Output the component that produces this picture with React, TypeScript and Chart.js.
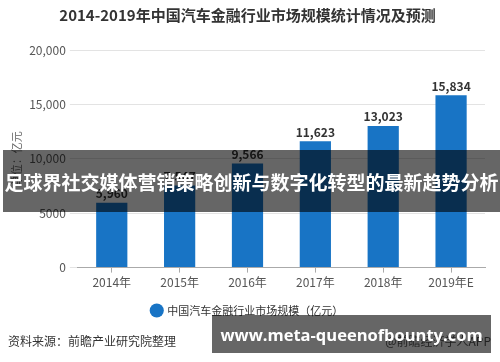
import React, { useEffect, useRef } from "react";
import { Chart, registerables } from "chart.js";

Chart.register(...registerables);

const categories = ["2014年", "2015年", "2016年", "2017年", "2018年", "2019年E"];
const marketSize = [5960, 7547, 9566, 11623, 13023, 15834];
const yTickLabels: Record<number, string> = { 0: "0", 5000: "5000", 10000: "10,000", 15000: "15,000", 20000: "20,000" };
const titleText = "2014-2019年中国汽车金融行业市场规模统计情况及预测";
const seriesName = "中国汽车金融行业市场规模（亿元）";
const yTitle = "单位：亿元";
const sourceText = "资料来源：前瞻产业研究院整理";
const creditText = "@前瞻经济学人APP";
const bannerText = "足球界社交媒体营销策略创新与数字化转型的最新趋势分析";
const urlText = "www.meta-queenofbounty.com";

const FONT = "'Noto Sans CJK SC', 'Noto Sans', sans-serif";

const valueLabels = {
  id: "valueLabels",
  afterDatasetsDraw(chart: any) {
    const ctx = chart.ctx;
    const meta = chart.getDatasetMeta(0);
    const data = chart.data.datasets[0].data as number[];
    ctx.save();
    ctx.font = `bold 12px ${FONT}`;
    ctx.fillStyle = "#333";
    ctx.textAlign = "center";
    ctx.textBaseline = "bottom";
    meta.data.forEach((el: any, i: number) => {
      ctx.fillText(data[i].toLocaleString("en-US"), el.x, el.y - 3);
    });
    ctx.restore();
  },
};

export default function App() {
  const ref = useRef<HTMLCanvasElement>(null);
  useEffect(() => {
    if (!ref.current) return;
    const chart = new Chart(ref.current, {
      type: "bar",
      data: {
        labels: categories,
        datasets: [
          {
            label: seriesName,
            data: marketSize,
            backgroundColor: "#1874c5",
            borderWidth: 0,
            barPercentage: 0.46,
            categoryPercentage: 1,
          },
        ],
      },
      options: {
        animation: false,
        responsive: false,
        maintainAspectRatio: false,
        layout: { padding: { left: 10, right: 15, top: 4, bottom: 36 } },
        plugins: {
          title: {
            display: true,
            text: titleText,
            color: "#333",
            font: { family: FONT, size: 15, weight: "bold" },
            padding: { top: 2, bottom: 26 },
          },
          legend: {
            position: "bottom",
            labels: {
              usePointStyle: true,
              pointStyle: "circle",
              boxWidth: 10,
              boxHeight: 10,
              color: "#333",
              font: { family: FONT, size: 11 },
              padding: 12,
            },
          },
          tooltip: { enabled: false },
        },
        scales: {
          x: {
            grid: { display: true, drawOnChartArea: false, offset: false, tickLength: 5, color: "#aaa" },
            border: { display: true, color: "#aaa" },
            ticks: { color: "#555", font: { family: FONT, size: 12 }, padding: 3 },
          },
          y: {
            min: 0,
            max: 20000,
            ticks: {
              stepSize: 5000,
              color: "#555",
              font: { family: FONT, size: 12 },
              padding: 4,
              callback: (v: any) => yTickLabels[Number(v)] ?? String(v),
            },
            grid: { color: "#e3e3e3", tickLength: 8 },
            border: { display: false },
            title: {
              display: true,
              text: yTitle,
              color: "#666",
              font: { family: FONT, size: 11 },
              padding: { top: 0, bottom: 2 },
            },
          },
        },
      },
      plugins: [valueLabels],
    });
    return () => chart.destroy();
  }, []);

  return (
    <div style={{ position: "fixed", left: 0, top: 0, width: 500, height: 362, background: "#fff", overflow: "hidden", fontFamily: FONT }}>
      <canvas ref={ref} width={500} height={362} style={{ position: "absolute", left: 0, top: 0, width: 500, height: 362 }} />
      <div style={{ position: "absolute", left: 8, top: 332, fontSize: 12, color: "#333", lineHeight: "18px", whiteSpace: "nowrap" }}>{sourceText}</div>
      <div style={{ position: "absolute", right: 9, top: 332, fontSize: 12, color: "#555", lineHeight: "18px", whiteSpace: "nowrap" }}>{creditText}</div>
      <div style={{ position: "absolute", left: 3, top: 150, width: 497, height: 62, background: "rgba(0,0,0,0.6)", display: "flex", alignItems: "center", justifyContent: "center" }}>
        <span style={{ color: "#fff", fontWeight: "bold", fontSize: 19, whiteSpace: "nowrap", letterSpacing: 0 }}>{bannerText}</span>
      </div>
      <div style={{ position: "absolute", left: 212, top: 315, width: 279, height: 38, background: "rgba(0,0,0,0.6)", display: "flex", alignItems: "center", justifyContent: "center" }}>
        <span style={{ color: "#fff", fontWeight: "bold", fontSize: 16.5, whiteSpace: "nowrap", fontFamily: "'Open Sans', 'Noto Sans', sans-serif" }}>{urlText}</span>
      </div>
    </div>
  );
}
